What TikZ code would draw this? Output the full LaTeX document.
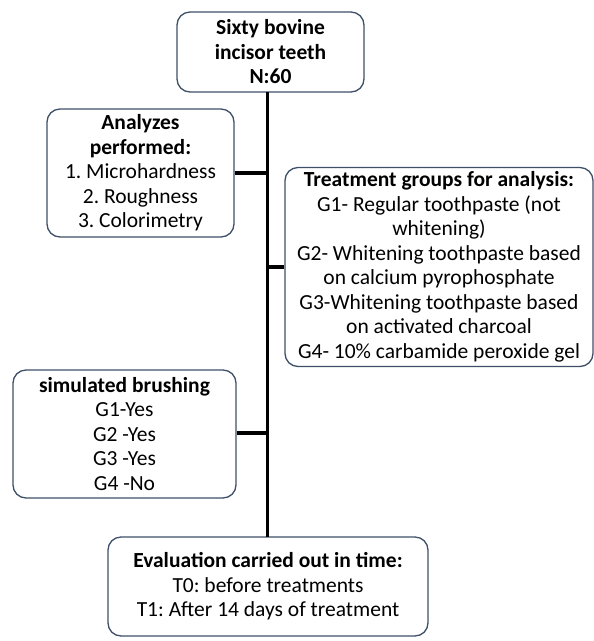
\documentclass[tikz,border=0pt]{standalone}
\usepackage{fontspec}
\setmainfont{Carlito}
\definecolor{boxline}{RGB}{62,80,104}
\begin{document}
\frenchspacing
\begin{tikzpicture}[x=1pt,y=1pt,
  box/.style={draw=boxline, line width=1.3pt, rounded corners=13pt, align=center,
    inner sep=0pt, font=\fontsize{21.5}{24.5}\selectfont, fill=white},
  link/.style={line width=3.8pt, black}]
\useasboundingbox (0,0) rectangle (594,-641);
\node[box, minimum width=187pt, minimum height=80pt] (top) at (270.5,-52) {\textbf{Sixty bovine}\\\textbf{incisor teeth}\\\textbf{N:60}};
\node[box, minimum width=187pt, minimum height=128pt] (ana) at (140.5,-173) {\textbf{Analyzes}\\\textbf{performed:}\\1. Microhardness\\2. Roughness\\3. Colorimetry};
\node[box, minimum width=308pt, minimum height=199pt] (treat) at (439,-267) {\textbf{Treatment groups for analysis:}\\G1- Regular toothpaste (not\\whitening)\\G2- Whitening toothpaste based\\on calcium pyrophosphate\\G3-Whitening toothpaste based\\on activated charcoal\\G4- 10\% carbamide peroxide gel};
\node[box, minimum width=223pt, minimum height=128pt] (brush) at (124.5,-434) {\textbf{simulated brushing}\\G1-Yes\\G2 -Yes\\G3 -Yes\\G4 -No};
\node[box, minimum width=320pt, minimum height=99pt] (eval) at (268,-586.5) {\textbf{Evaluation carried out in time:}\\T0: before treatments\\T1: After 14 days of treatment};
\coordinate (ttop) at (267.5,-92);
\coordinate (tbot) at (267.5,-537);
\coordinate (ja) at (267.5,-173);
\coordinate (jt) at (267.5,-267);
\coordinate (jb) at (267.5,-433);
\draw[link] (ttop) -- (tbot);
\draw[link] (ana.east) -- (ja);
\draw[link] (jt) -- (treat.west);
\draw[link] (brush.east |- jb) -- (jb);
\end{tikzpicture}
\end{document}
